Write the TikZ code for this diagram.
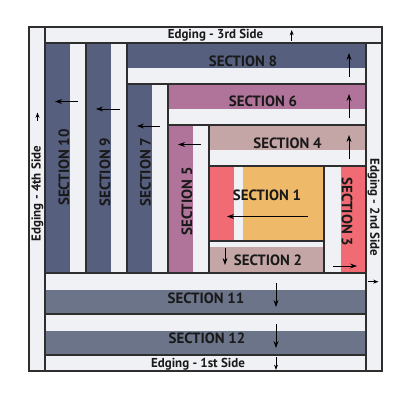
\documentclass[tikz,border=0pt]{standalone}
\usepackage{fontspec}
\setmainfont{PT Sans}
\usetikzlibrary{arrows.meta}
\definecolor{navy}{HTML}{575F7F}
\definecolor{mauve}{HTML}{B07399}
\definecolor{dpink}{HTML}{C4A6A6}
\definecolor{qred}{HTML}{F06B73}
\definecolor{qorange}{HTML}{EEB968}
\definecolor{slate}{HTML}{6B7488}
\definecolor{qwhite}{HTML}{F0F1F5}
\definecolor{edgeline}{HTML}{2E2E2E}
\tikzset{
  logbox/.style={fill=qwhite, draw=edgeline, line width=0.9pt},
  lbl/.style={font=\bfseries\fontsize{10.6}{11}\selectfont, text=black!90, inner sep=0pt},
  elbl/.style={font=\bfseries\fontsize{9.2}{10}\selectfont, text=black!90, inner sep=0pt},
  arr/.style={line width=0.6pt, -{Stealth[length=5pt,width=3.5pt]}},
  sarr/.style={line width=0.6pt, -{Stealth[length=3.8pt,width=2.8pt]}}
}
\begin{document}
\begin{tikzpicture}[x=0.025cm,y=-0.025cm]
\useasboundingbox (0,0) rectangle (400,400);
% log macro: white box, coloured strip, outline
\newcommand{\qlog}[9]{%
  \fill[qwhite] (#1,#2) rectangle (#3,#4);
  \fill[#9] (#5,#6) rectangle (#7,#8);
  \draw[edgeline, line width=0.9pt] (#1,#2) rectangle (#3,#4);}
% edgings
\draw[logbox] (29,27) rectangle (45,371);
\draw[logbox] (45,27) rectangle (382,43);
\draw[logbox] (366,43) rectangle (382,371);
\draw[logbox] (45,355) rectangle (366,371);
% logs
\qlog{45}{43}{86}{273}{45}{43}{70}{273}{navy}
\qlog{86}{43}{127}{273}{86}{43}{111}{273}{navy}
\qlog{127}{43}{366}{84}{127}{43}{366}{68}{navy}
\qlog{127}{84}{168}{273}{127}{84}{152}{273}{navy}
\qlog{168}{84}{366}{125}{168}{84}{366}{109}{mauve}
\qlog{168}{125}{209}{273}{168}{125}{193}{273}{mauve}
\qlog{209}{125}{366}{166}{209}{125}{366}{150}{dpink}
\qlog{324}{166}{366}{273}{341}{166}{366}{273}{qred}
\qlog{209}{241}{324}{273}{209}{247}{324}{273}{dpink}
\qlog{209}{166}{324}{241}{209}{166}{234}{241}{qred}
\fill[qorange] (243,166) rectangle (324,241);
\draw[edgeline, line width=0.9pt] (209,166) rectangle (324,241);
\qlog{45}{273}{366}{314}{45}{290}{366}{314}{slate}
\qlog{45}{314}{366}{355}{45}{331}{366}{355}{slate}
% labels
\node[elbl] (e3) at (215.5,35.5) {Edging - 3rd Side};
\node[elbl] (e1) at (198,364) {Edging - 1st Side};
\node[elbl, rotate=-90] (e2) at (373.5,207.5) {Edging - 2nd Side};
\node[elbl, rotate=90] (e4) at (37.5,193.5) {Edging - 4th Side};
\node[lbl] (s8) at (243,61.7) {SECTION 8};
\node[lbl] (s6) at (263,101.7) {SECTION 6};
\node[lbl] (s4) at (287.5,143.3) {SECTION 4};
\node[lbl] (s1) at (267,195) {SECTION 1};
\node[lbl] (s2) at (268,260) {SECTION 2};
\node[lbl, rotate=-90] (s3) at (347,212) {SECTION 3};
\node[lbl] (s11) at (206,298) {SECTION 11};
\node[lbl] (s12) at (207,338) {SECTION 12};
\node[lbl, rotate=90] (s10) at (64,167.5) {SECTION 10};
\node[lbl, rotate=90] (s9) at (105,172) {SECTION 9};
\node[lbl, rotate=90] (s7) at (145.5,172) {SECTION 7};
\node[lbl, rotate=90] (s5) at (187,201.5) {SECTION 5};
% arrows
\coordinate (a8s) at (349,77); \coordinate (a8e) at (349,53);
\coordinate (a6s) at (349,118); \coordinate (a6e) at (349,94);
\coordinate (a4s) at (349,159); \coordinate (a4e) at (349,135);
\coordinate (a1s) at (308,216.5); \coordinate (a1e) at (227,216.5);
\coordinate (a2s) at (225,248); \coordinate (a2e) at (225,265);
\coordinate (a3s) at (333,266); \coordinate (a3e) at (357,266);
\coordinate (a11s) at (276,283); \coordinate (a11e) at (276,307);
\coordinate (a12s) at (276,324); \coordinate (a12e) at (276,348);
\coordinate (a10s) at (78,101.5); \coordinate (a10e) at (55,101.5);
\coordinate (a9s) at (119.5,109); \coordinate (a9e) at (96,109);
\coordinate (a7s) at (160,126); \coordinate (a7e) at (137,126);
\coordinate (a5s) at (201,144.5); \coordinate (a5e) at (178,144.5);
\coordinate (ae3s) at (291.7,41); \coordinate (ae3e) at (291.7,30);
\coordinate (ae1s) at (276,357); \coordinate (ae1e) at (276,370);
\coordinate (ae2s) at (368,281.7); \coordinate (ae2e) at (378.5,281.7);
\coordinate (ae4s) at (37.5,121); \coordinate (ae4e) at (37.5,112.5);
\foreach \k in {8,6,4,1,2,3,11,12,10,9,7,5}{\draw[arr] (a\k s) -- (a\k e);}
\foreach \k in {e3,e1,e2,e4}{\draw[sarr] (a\k s) -- (a\k e);}
\end{tikzpicture}
\end{document}
